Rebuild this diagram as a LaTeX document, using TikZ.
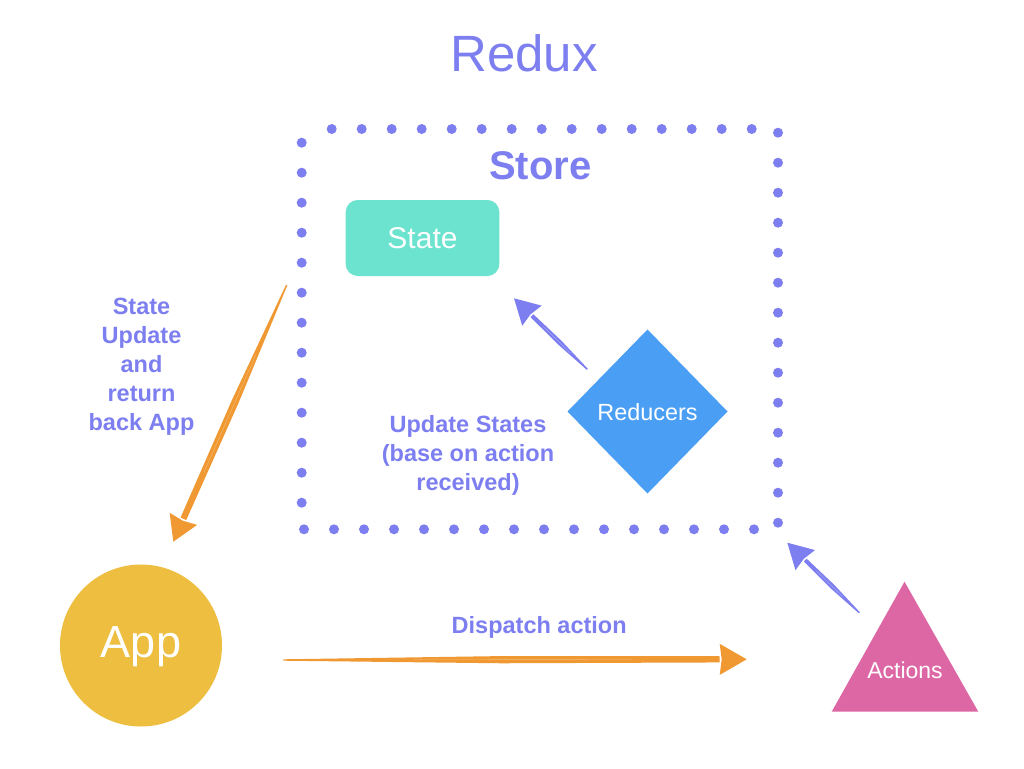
\documentclass[tikz,border=0pt]{standalone}
\usepackage{fontspec}
\setmainfont{Liberation Sans}
\usetikzlibrary{calc}
\definecolor{periw}{RGB}{125,127,240}
\definecolor{teal}{RGB}{107,227,207}
\definecolor{rblue}{RGB}{74,159,245}
\definecolor{rpink}{RGB}{221,103,165}
\definecolor{ryellow}{RGB}{237,190,63}
\definecolor{rorange}{RGB}{240,152,50}
% sketchy arrow: #1 colour, #2 from, #3 to, #4 head length, #5 head half width, #6 shaft half width
\newcommand\skarrow[6]{%
  \coordinate (skH) at ($(#3)!#4pt!(#2)$);
  \coordinate (skM) at ($(#2)!0.5!(skH)$);
  \fill[#1] ($(#2)!0.7pt!90:(#3)$) -- ($(skM)!#6pt!-90:(#2)$) -- ($(skH)!#6pt-0.5pt!-90:(#2)$) -- ($(skH)!#6pt-0.5pt!90:(#2)$) -- ($(skM)!#6pt!90:(#2)$) -- ($(#2)!0.7pt!-90:(#3)$) -- cycle;
  \draw[white, line width=0.4pt, opacity=0.35] ($(#2)!0.3!(skH)$) -- ($(#2)!0.8!(skH)$);
  \fill[#1] ($(skH)!#5pt!-90:(#2)$) -- (#3) -- ($(skH)!#5pt!90:(#2)$) -- ($(skH)!2pt!(#3)$) -- cycle;
}
\begin{document}
\begin{tikzpicture}[x=1pt,y=-1pt,
  lbl/.style={text=periw, font=\bfseries\fontsize{23.5}{29}\selectfont, align=center, inner sep=0pt},
  dotc/.style={fill=periw},
  wtext/.style={text=white, inner sep=0pt}]
\useasboundingbox[fill=white] (0,0) rectangle (1024,768);

% title
\node[text=periw, font=\fontsize{51}{51}\selectfont, anchor=base, inner sep=0pt] (title) at (524,71.7) {Redux};

% dotted store boundary
\foreach \k in {0,...,14} \fill[dotc] (331.7+30*\k,129) circle (5);
\foreach \k in {0,...,13} \fill[dotc] (778,132.7+30*\k) circle (5);
\foreach \k in {0,...,15} \fill[dotc] (304+30*\k,529.3) circle (5);
\foreach \k in {0,...,12} \fill[dotc] (301.7,142.7+30*\k) circle (5);
\node[text=periw, font=\bfseries\fontsize{40}{40}\selectfont, anchor=base, inner sep=0pt] (store) at (540.3,179.3) {Store};

% state
\node[fill=teal, rounded corners=12pt, minimum width=153.6pt, minimum height=76pt, inner sep=0pt,
      text=white, font=\fontsize{30}{30}\selectfont] (state) at (422.5,238) {State};

% reducers
\fill[rblue] (647.5,329.5) -- (727.5,411.5) -- (647.5,493.5) -- (567.5,411.5) -- cycle;
\node[wtext, font=\fontsize{23.4}{23.4}\selectfont] (reducers) at (647.5,412.5) {Reducers};

% app
\fill[ryellow] (141,645.5) circle (81);
\node[wtext, font=\fontsize{45}{45}\selectfont] (app) at (141,646.5) {App};

% actions
\fill[rpink] (904.5,581.7) -- (978.3,711.7) -- (831.7,711.7) -- cycle;
\node[wtext, font=\fontsize{23}{23}\selectfont] (actions) at (905,670.5) {Actions};

% labels
\node[lbl] (lblside) at (141.5,366.4) {State\\Update\\and\\return\\back App};
\node[lbl] (lblupd) at (468,455.3) {Update States\\(base on action\\received)};
\node[lbl, anchor=base] (lbldisp) at (539.2,633.3) {Dispatch action};

% connector end points
\coordinate (redFrom) at (587.3,369.3);
\coordinate (stateTo) at (514,298.3);
\coordinate (actFrom) at (859.3,612.7);
\coordinate (storeTo) at (787.3,542.7);
\coordinate (storeFrom) at (286.7,285);
\coordinate (appTo) at (173.3,541.7);
\coordinate (appFrom) at (283.3,660);
\coordinate (actTo) at (746.7,659.3);

\skarrow{periw}{redFrom}{stateTo}{25}{14}{2.5}
\skarrow{periw}{actFrom}{storeTo}{25}{14}{2.5}
\skarrow{rorange}{storeFrom}{appTo}{25}{15}{3.6}
\skarrow{rorange}{appFrom}{actTo}{27}{15.5}{3.6}
\end{tikzpicture}
\end{document}
